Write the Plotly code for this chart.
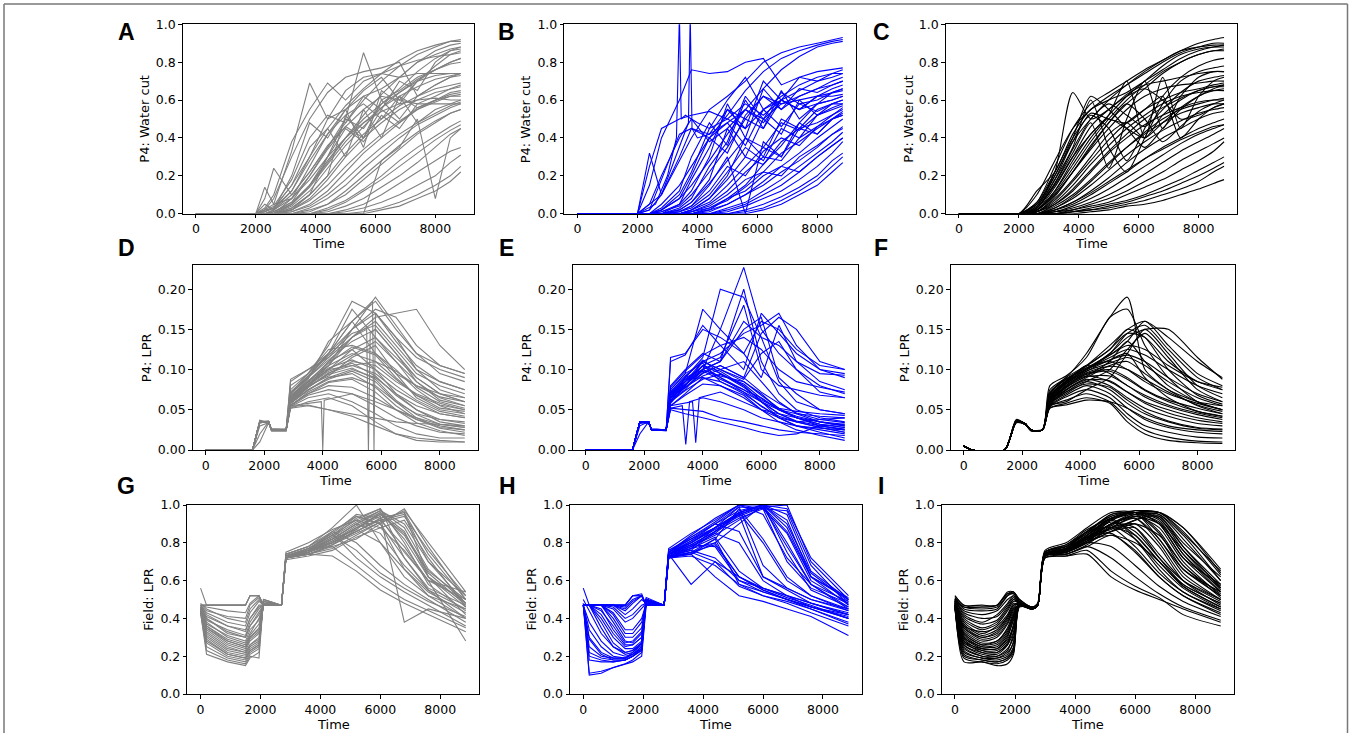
import plotly.graph_objects as go

FIG_W, FIG_H = 1352, 733
GRAY = '#808080'
BLUE = '#0000ff'
BLACK = '#000000'

# ---------------- tick labels ----------------
X_TICKS = [0, 2000, 4000, 6000, 8000]
X_TICK_TEXT = ['0', '2000', '4000', '6000', '8000']
Y_TICKS_UNIT = [0.0, 0.2, 0.4, 0.6, 0.8, 1.0]
Y_TICK_TEXT_UNIT = ['0.0', '0.2', '0.4', '0.6', '0.8', '1.0']
Y_TICKS_LPR = [0.0, 0.05, 0.10, 0.15, 0.20]
Y_TICK_TEXT_LPR = ['0.00', '0.05', '0.10', '0.15', '0.20']

# ---------------- panel A : P4 water cut (gray) ----------------
TIME_A = [0, 2000, 2300, 2600, 3200, 3800, 4400, 5000, 5600, 6200, 6800, 7400, 8000, 8500, 8850]
A_WC = [
    [0, 0, 0, 0.02, 0.10, 0.22, 0.35, 0.48, 0.60, 0.70, 0.78, 0.84, 0.88, 0.91, 0.92],
    [0, 0, 0.01, 0.03, 0.15, 0.30, 0.45, 0.57, 0.66, 0.74, 0.81, 0.86, 0.89, 0.91, 0.91],
    [0, 0, 0, 0.01, 0.06, 0.15, 0.27, 0.40, 0.52, 0.63, 0.72, 0.80, 0.86, 0.89, 0.90],
    [0, 0, 0.02, 0.05, 0.33, 0.69, 0.50, 0.55, 0.62, 0.66, 0.72, 0.80, 0.84, 0.87, 0.88],
    [0, 0, 0.03, 0.10, 0.38, 0.55, 0.69, 0.60, 0.70, 0.74, 0.78, 0.81, 0.83, 0.84, 0.85],
    [0, 0, 0.02, 0.08, 0.30, 0.50, 0.64, 0.72, 0.75, 0.77, 0.80, 0.62, 0.68, 0.72, 0.74],
    [0, 0, 0, 0, 0.05, 0.15, 0.30, 0.50, 0.85, 0.60, 0.65, 0.72, 0.76, 0.80, 0.82],
    [0, 0, 0, 0.02, 0.12, 0.30, 0.50, 0.65, 0.72, 0.74, 0.72, 0.74, 0.74, 0.74, 0.74],
    [0, 0, 0, 0, 0.05, 0.15, 0.28, 0.40, 0.50, 0.58, 0.64, 0.70, 0.73, 0.74, 0.74],
    [0, 0, 0, 0, 0.02, 0.08, 0.18, 0.30, 0.40, 0.48, 0.55, 0.60, 0.64, 0.66, 0.67],
    [0, 0, 0, 0, 0.01, 0.05, 0.12, 0.22, 0.32, 0.40, 0.48, 0.55, 0.60, 0.64, 0.65],
    [0, 0, 0.14, 0.05, 0.08, 0.18, 0.30, 0.40, 0.48, 0.54, 0.58, 0.60, 0.61, 0.60, 0.60],
    [0, 0, 0.08, 0.24, 0.10, 0.22, 0.36, 0.46, 0.55, 0.62, 0.60, 0.58, 0.58, 0.58, 0.58],
    [0, 0, 0, 0, 0, 0.03, 0.08, 0.15, 0.24, 0.32, 0.40, 0.47, 0.52, 0.56, 0.58],
    [0, 0, 0, 0, 0, 0.02, 0.05, 0.10, 0.18, 0.26, 0.34, 0.42, 0.48, 0.53, 0.55],
    [0, 0, 0, 0, 0, 0, 0.03, 0.07, 0.13, 0.20, 0.28, 0.35, 0.41, 0.46, 0.49],
    [0, 0, 0, 0, 0, 0, 0.01, 0.04, 0.08, 0.14, 0.20, 0.27, 0.35, 0.42, 0.45],
    [0, 0, 0, 0, 0, 0, 0, 0.02, 0.05, 0.10, 0.16, 0.22, 0.28, 0.33, 0.35],
    [0, 0, 0, 0, 0, 0, 0, 0.01, 0.03, 0.06, 0.10, 0.15, 0.20, 0.27, 0.31],
    [0, 0, 0, 0, 0, 0, 0, 0, 0.01, 0.03, 0.06, 0.10, 0.15, 0.20, 0.25],
    [0, 0, 0, 0, 0, 0, 0, 0, 0, 0.02, 0.04, 0.08, 0.12, 0.17, 0.22],
    [0, 0, 0.02, 0.03, 0.15, 0.35, 0.45, 0.30, 0.55, 0.40, 0.62, 0.48, 0.55, 0.58, 0.60],
    [0, 0, 0, 0, 0, 0, 0, 0, 0, 0.28, 0.35, 0.50, 0.08, 0.40, 0.45],
    [0, 0, 0.01, 0.04, 0.18, 0.40, 0.52, 0.48, 0.62, 0.55, 0.70, 0.65, 0.80, 0.86, 0.88],
    [0, 0, 0, 0, 0.08, 0.25, 0.42, 0.55, 0.65, 0.72, 0.60, 0.70, 0.78, 0.84, 0.86],
    [0, 0, 0, 0, 0.03, 0.10, 0.20, 0.52, 0.40, 0.60, 0.50, 0.62, 0.68, 0.72, 0.73],
    [0, 0, 0, 0.01, 0.06, 0.20, 0.35, 0.50, 0.45, 0.58, 0.66, 0.75, 0.82, 0.86, 0.87],
    [0, 0, 0, 0, 0.02, 0.10, 0.30, 0.45, 0.38, 0.52, 0.45, 0.58, 0.62, 0.66, 0.68],
    [0, 0, 0, 0.01, 0.05, 0.14, 0.26, 0.38, 0.48, 0.56, 0.62, 0.67, 0.71, 0.73, 0.74],
    [0, 0, 0, 0, 0.03, 0.10, 0.20, 0.32, 0.42, 0.50, 0.57, 0.62, 0.66, 0.68, 0.69],
    [0, 0, 0, 0, 0.02, 0.07, 0.15, 0.25, 0.34, 0.42, 0.49, 0.55, 0.59, 0.62, 0.63],
    [0, 0, 0, 0, 0.01, 0.04, 0.10, 0.18, 0.27, 0.35, 0.42, 0.48, 0.53, 0.57, 0.59],
    [0, 0, 0.01, 0.03, 0.12, 0.28, 0.42, 0.52, 0.58, 0.50, 0.62, 0.56, 0.60, 0.62, 0.62],
    [0, 0, 0, 0.02, 0.08, 0.20, 0.34, 0.46, 0.40, 0.55, 0.48, 0.56, 0.60, 0.63, 0.64],
    [0, 0, 0, 0, 0, 0.01, 0.05, 0.12, 0.20, 0.28, 0.36, 0.43, 0.49, 0.53, 0.55],
    [0, 0, 0, 0, 0, 0, 0.02, 0.06, 0.12, 0.18, 0.25, 0.32, 0.39, 0.44, 0.47],
    [0, 0, 0.05, 0.02, 0.20, 0.48, 0.40, 0.55, 0.35, 0.65, 0.58, 0.70, 0.76, 0.80, 0.82],
    [0, 0, 0, 0, 0.04, 0.12, 0.24, 0.36, 0.46, 0.56, 0.64, 0.71, 0.76, 0.79, 0.80],
]

# ---------------- panel B : P4 water cut (blue) ----------------
TIME_B = [0, 2000, 2400, 2800, 3400, 3800, 4400, 5000, 5600, 6200, 6800, 7400, 8000, 8500, 8850]
B_WC = [
    [0, 0, 0.25, 0.45, 0.50, 0.52, 0.54, 0.50, 0.45, 0.55, 0.60, 0.65, 0.70, 0.74, 0.76],
    [0, 0, 0.15, 0.40, 0.60, 0.76, 0.74, 0.75, 0.80, 0.82, 0.68, 0.72, 0.75, 0.76, 0.77],
    [0, 0, 0.32, 0.10, 0.30, 0.45, 0.42, 0.55, 0.50, 0.62, 0.58, 0.60, 0.62, 0.64, 0.65],
    [0, 0, 0.05, 0.20, 0.40, 0.50, 0.38, 0.45, 0.55, 0.48, 0.60, 0.55, 0.62, 0.66, 0.68],
    [0, 0, 0.02, 0.10, 0.28, 0.40, 0.55, 0.62, 0.70, 0.80, 0.85, 0.88, 0.90, 0.92, 0.93],
    [0, 0, 0, 0.05, 0.15, 0.25, 0.40, 0.52, 0.65, 0.75, 0.82, 0.86, 0.89, 0.91, 0.92],
    [0, 0, 0, 0.02, 0.08, 0.15, 0.28, 0.42, 0.55, 0.66, 0.76, 0.83, 0.88, 0.90, 0.91],
    [0, 0, 0, 0.02, 0.10, 0.22, 0.45, 0.60, 0.72, 0.55, 0.62, 0.68, 0.72, 0.74, 0.74],
    [0, 0, 0, 0, 0.05, 0.12, 0.30, 0.58, 0.40, 0.66, 0.55, 0.62, 0.66, 0.68, 0.70],
    [0, 0, 0, 0, 0.02, 0.06, 0.18, 0.45, 0.30, 0.50, 0.42, 0.60, 0.52, 0.58, 0.60],
    [0, 0, 0, 0, 0.01, 0.03, 0.10, 0.22, 0.35, 0.28, 0.45, 0.40, 0.52, 0.55, 0.57],
    [0, 0, 0, 0, 0, 0.02, 0.06, 0.15, 0.25, 0.35, 0.30, 0.45, 0.48, 0.52, 0.55],
    [0, 0, 0, 0, 0, 0.01, 0.04, 0.10, 0.18, 0.22, 0.32, 0.38, 0.45, 0.50, 0.52],
    [0, 0, 0, 0, 0, 0, 0.02, 0.08, 0.12, 0.20, 0.25, 0.32, 0.40, 0.46, 0.50],
    [0, 0, 0, 0, 0, 0, 0.01, 0.05, 0.10, 0.15, 0.22, 0.28, 0.35, 0.42, 0.45],
    [0, 0, 0, 0, 0, 0, 0, 0.03, 0.06, 0.12, 0.18, 0.25, 0.32, 0.38, 0.43],
    [0, 0, 0, 0, 0, 0, 0, 0.02, 0.05, 0.10, 0.15, 0.22, 0.30, 0.36, 0.40],
    [0, 0, 0, 0, 0, 0, 0, 0.01, 0.04, 0.08, 0.12, 0.18, 0.25, 0.32, 0.38],
    [0, 0, 0, 0, 0, 0, 0, 0, 0.02, 0.05, 0.09, 0.14, 0.20, 0.28, 0.32],
    [0, 0, 0, 0, 0, 0, 0, 0, 0.01, 0.03, 0.07, 0.12, 0.18, 0.25, 0.30],
    [0, 0, 0, 0, 0, 0, 0, 0, 0, 0.02, 0.05, 0.10, 0.15, 0.22, 0.27],
    [0, 0, 0, 0.03, 0.12, 0.30, 0.48, 0.36, 0.60, 0.45, 0.65, 0.50, 0.58, 0.60, 0.62],
    [0, 0, 0, 0.01, 0.05, 0.18, 0.35, 0.55, 0.45, 0.70, 0.60, 0.72, 0.70, 0.72, 0.74],
    [0, 0, 0, 0, 0.03, 0.08, 0.25, 0.38, 0.62, 0.50, 0.64, 0.58, 0.60, 0.64, 0.66],
    [0, 0, 0, 0, 0, 0.02, 0.08, 0.20, 0.40, 0.30, 0.50, 0.45, 0.55, 0.58, 0.58],
    [0, 0, 0, 0, 0.01, 0.04, 0.15, 0.30, 0.00, 0.38, 0.30, 0.48, 0.42, 0.50, 0.53],
    [0, 0, 0, 0, 0.02, 0.06, 0.16, 0.28, 0.40, 0.35, 0.48, 0.44, 0.52, 0.56, 0.58],
    [0, 0, 0, 0, 0.01, 0.04, 0.12, 0.25, 0.20, 0.33, 0.40, 0.36, 0.46, 0.50, 0.52],
    [0, 0, 0, 0, 0, 0.02, 0.08, 0.18, 0.30, 0.26, 0.38, 0.45, 0.42, 0.50, 0.54],
    [0, 0, 0, 0, 0, 0.01, 0.05, 0.12, 0.22, 0.30, 0.28, 0.40, 0.46, 0.52, 0.56],
    [0, 0, 0, 0.01, 0.04, 0.10, 0.22, 0.35, 0.50, 0.45, 0.60, 0.55, 0.62, 0.62, 0.63],
    [0, 0, 0, 0, 0, 0, 0.03, 0.07, 0.14, 0.22, 0.20, 0.30, 0.36, 0.42, 0.46],
    [0, 0, 0, 0, 0, 0, 0.02, 0.05, 0.10, 0.17, 0.25, 0.22, 0.30, 0.36, 0.40],
    [0, 0, 0, 0.02, 0.08, 0.20, 0.40, 0.32, 0.52, 0.62, 0.55, 0.66, 0.64, 0.68, 0.70],
    [0, 0, 0.02, 0.18, 0.42, 0.45, 0.40, 0.48, 0.36, 0.55, 0.46, 0.58, 0.54, 0.58, 0.60],
    [0, 0, 0, 0, 0, 0.01, 0.03, 0.08, 0.15, 0.26, 0.36, 0.48, 0.58, 0.64, 0.66],
]
TIME_B_SPIKE1 = [0, 2000, 2600, 3000, 3300, 3400, 3460, 3600, 4000, 4400, 5000, 5600, 6200, 6800, 7400, 8000, 8500, 8850]
B_SPIKE1 = [0, 0, 0.05, 0.20, 0.40, 1.05, 0.50, 0.52, 0.48, 0.45, 0.50, 0.58, 0.52, 0.60, 0.55, 0.58, 0.60, 0.62]
TIME_B_SPIKE2 = [0, 2000, 2800, 3400, 3700, 3760, 3820, 4000, 4400, 5000, 5600, 6200, 6800, 7400, 8000, 8500, 8850]
B_SPIKE2 = [0, 0, 0.10, 0.35, 0.48, 1.05, 0.45, 0.40, 0.42, 0.48, 0.55, 0.50, 0.58, 0.62, 0.66, 0.70, 0.72]

# ---------------- panel C : P4 water cut (black) ----------------
TIME_C = [0, 2000, 2600, 3200, 3800, 4400, 5000, 5600, 6200, 6800, 7400, 8000, 8500, 8850]
C_WC = [
    [0, 0, 0.06, 0.25, 0.45, 0.58, 0.64, 0.70, 0.76, 0.81, 0.86, 0.90, 0.92, 0.93],
    [0, 0, 0.10, 0.28, 0.45, 0.55, 0.62, 0.68, 0.74, 0.80, 0.85, 0.88, 0.90, 0.90],
    [0, 0, 0.05, 0.20, 0.38, 0.50, 0.60, 0.68, 0.75, 0.81, 0.86, 0.88, 0.89, 0.89],
    [0, 0, 0.03, 0.15, 0.30, 0.42, 0.52, 0.62, 0.70, 0.78, 0.84, 0.87, 0.88, 0.88],
    [0, 0, 0.02, 0.10, 0.22, 0.35, 0.48, 0.58, 0.66, 0.74, 0.80, 0.84, 0.86, 0.86],
    [0, 0, 0.06, 0.22, 0.40, 0.52, 0.45, 0.28, 0.45, 0.62, 0.72, 0.78, 0.81, 0.82],
    [0, 0, 0.04, 0.18, 0.35, 0.60, 0.35, 0.22, 0.40, 0.58, 0.70, 0.75, 0.77, 0.78],
    [0, 0, 0.03, 0.16, 0.32, 0.48, 0.24, 0.50, 0.70, 0.45, 0.62, 0.72, 0.75, 0.75],
    [0, 0, 0.02, 0.12, 0.26, 0.40, 0.52, 0.70, 0.40, 0.72, 0.45, 0.62, 0.70, 0.72],
    [0, 0, 0.02, 0.10, 0.22, 0.34, 0.45, 0.55, 0.62, 0.66, 0.68, 0.69, 0.70, 0.70],
    [0, 0, 0.01, 0.08, 0.18, 0.30, 0.42, 0.48, 0.40, 0.52, 0.60, 0.65, 0.67, 0.67],
    [0, 0, 0.01, 0.06, 0.15, 0.26, 0.36, 0.45, 0.52, 0.58, 0.62, 0.64, 0.65, 0.65],
    [0, 0, 0.01, 0.05, 0.12, 0.22, 0.32, 0.40, 0.47, 0.52, 0.56, 0.59, 0.60, 0.60],
    [0, 0, 0, 0.04, 0.10, 0.18, 0.27, 0.35, 0.42, 0.48, 0.53, 0.56, 0.58, 0.58],
    [0, 0, 0, 0.03, 0.08, 0.15, 0.23, 0.31, 0.38, 0.44, 0.49, 0.53, 0.55, 0.56],
    [0, 0, 0, 0.02, 0.06, 0.12, 0.19, 0.27, 0.34, 0.40, 0.45, 0.50, 0.53, 0.54],
    [0, 0, 0, 0.02, 0.05, 0.10, 0.16, 0.22, 0.29, 0.35, 0.40, 0.45, 0.48, 0.50],
    [0, 0, 0, 0.01, 0.04, 0.08, 0.13, 0.19, 0.25, 0.31, 0.37, 0.42, 0.45, 0.47],
    [0, 0, 0, 0.01, 0.03, 0.06, 0.10, 0.15, 0.21, 0.27, 0.33, 0.38, 0.42, 0.45],
    [0, 0, 0, 0.01, 0.02, 0.05, 0.08, 0.12, 0.17, 0.22, 0.28, 0.33, 0.37, 0.40],
    [0, 0, 0, 0, 0.02, 0.04, 0.06, 0.10, 0.14, 0.18, 0.23, 0.28, 0.33, 0.38],
    [0, 0, 0, 0, 0.01, 0.03, 0.05, 0.07, 0.10, 0.14, 0.18, 0.23, 0.27, 0.30],
    [0, 0, 0, 0, 0.01, 0.02, 0.04, 0.06, 0.09, 0.12, 0.16, 0.20, 0.24, 0.27],
    [0, 0, 0, 0, 0.01, 0.02, 0.03, 0.05, 0.07, 0.10, 0.13, 0.17, 0.22, 0.25],
    [0, 0, 0, 0, 0, 0.01, 0.02, 0.04, 0.05, 0.07, 0.10, 0.13, 0.16, 0.18],
    [0, 0, 0.05, 0.22, 0.64, 0.50, 0.55, 0.63, 0.68, 0.70, 0.72, 0.74, 0.75, 0.75],
    [0, 0, 0.04, 0.20, 0.40, 0.62, 0.55, 0.45, 0.35, 0.45, 0.55, 0.62, 0.66, 0.68],
    [0, 0, 0.03, 0.18, 0.38, 0.53, 0.50, 0.48, 0.55, 0.62, 0.40, 0.50, 0.56, 0.58],
    [0, 0, 0.12, 0.22, 0.42, 0.55, 0.60, 0.64, 0.70, 0.76, 0.82, 0.86, 0.88, 0.89],
    [0, 0, 0.02, 0.12, 0.28, 0.42, 0.50, 0.45, 0.40, 0.48, 0.56, 0.62, 0.65, 0.66],
    [0, 0, 0.01, 0.09, 0.22, 0.36, 0.48, 0.58, 0.50, 0.38, 0.46, 0.54, 0.58, 0.60],
    [0, 0, 0.02, 0.14, 0.30, 0.46, 0.55, 0.62, 0.66, 0.60, 0.50, 0.52, 0.56, 0.58],
    [0, 0, 0.01, 0.07, 0.17, 0.28, 0.39, 0.48, 0.55, 0.60, 0.64, 0.66, 0.68, 0.69],
    [0, 0, 0, 0.05, 0.13, 0.23, 0.33, 0.42, 0.50, 0.56, 0.61, 0.65, 0.67, 0.68],
    [0, 0, 0, 0.03, 0.09, 0.17, 0.26, 0.35, 0.43, 0.50, 0.55, 0.58, 0.60, 0.61],
    [0, 0, 0.03, 0.16, 0.34, 0.50, 0.58, 0.52, 0.46, 0.55, 0.64, 0.70, 0.72, 0.73],
    [0, 0, 0.02, 0.11, 0.24, 0.38, 0.50, 0.60, 0.68, 0.75, 0.80, 0.84, 0.86, 0.87],
    [0, 0, 0, 0.02, 0.06, 0.11, 0.17, 0.23, 0.29, 0.34, 0.39, 0.43, 0.46, 0.47],
]

# ---------------- panel D : P4 LPR (gray) ----------------
TIME_D = [0, 1600, 1850, 2150, 2250, 2750, 2900, 3500, 4200, 5000, 5800, 6500, 7200, 8000, 8850]
D_LPR = [
    [0, 0, 0.036, 0.034, 0.026, 0.026, 0.085, 0.100, 0.115, 0.140, 0.165, 0.170, 0.175, 0.130, 0.100],
    [0, 0, 0.035, 0.035, 0.025, 0.025, 0.080, 0.095, 0.120, 0.160, 0.185, 0.150, 0.120, 0.105, 0.095],
    [0, 0, 0.037, 0.034, 0.024, 0.024, 0.075, 0.095, 0.130, 0.185, 0.170, 0.140, 0.115, 0.100, 0.090],
    [0, 0, 0.034, 0.035, 0.026, 0.025, 0.070, 0.090, 0.120, 0.150, 0.190, 0.155, 0.120, 0.095, 0.085],
    [0, 0, 0.035, 0.036, 0.025, 0.026, 0.065, 0.085, 0.110, 0.140, 0.160, 0.130, 0.100, 0.085, 0.075],
    [0, 0, 0.030, 0.034, 0.024, 0.024, 0.065, 0.088, 0.135, 0.160, 0.120, 0.095, 0.080, 0.070, 0.065],
    [0, 0, 0.036, 0.035, 0.025, 0.025, 0.060, 0.080, 0.100, 0.125, 0.140, 0.115, 0.090, 0.070, 0.060],
    [0, 0, 0.035, 0.034, 0.024, 0.024, 0.060, 0.078, 0.095, 0.110, 0.105, 0.085, 0.070, 0.058, 0.050],
    [0, 0, 0.020, 0.035, 0.025, 0.025, 0.058, 0.075, 0.090, 0.100, 0.090, 0.070, 0.055, 0.045, 0.040],
    [0, 0, 0.034, 0.035, 0.026, 0.025, 0.055, 0.072, 0.085, 0.090, 0.080, 0.060, 0.045, 0.038, 0.035],
    [0, 0, 0.035, 0.036, 0.025, 0.025, 0.058, 0.078, 0.110, 0.125, 0.100, 0.070, 0.050, 0.035, 0.030],
    [0, 0, 0.010, 0.034, 0.024, 0.024, 0.056, 0.070, 0.080, 0.078, 0.065, 0.050, 0.038, 0.030, 0.025],
    [0, 0, 0.035, 0.035, 0.025, 0.025, 0.055, 0.068, 0.075, 0.070, 0.055, 0.040, 0.030, 0.022, 0.020],
    [0, 0, 0.035, 0.035, 0.025, 0.025, 0.054, 0.065, 0.070, 0.060, 0.045, 0.030, 0.020, 0.015, 0.015],
    [0, 0, 0.036, 0.034, 0.024, 0.024, 0.052, 0.060, 0.065, 0.055, 0.035, 0.020, 0.012, 0.010, 0.010],
    [0, 0, 0.034, 0.035, 0.026, 0.025, 0.052, 0.055, 0.050, 0.045, 0.040, 0.035, 0.033, 0.032, 0.030],
    [0, 0, 0.035, 0.035, 0.025, 0.025, 0.054, 0.056, 0.050, 0.042, 0.030, 0.020, 0.015, 0.012, 0.010],
    [0, 0, 0.035, 0.035, 0.025, 0.025, 0.066, 0.090, 0.115, 0.150, 0.175, 0.165, 0.130, 0.105, 0.095],
    [0, 0, 0.035, 0.035, 0.025, 0.025, 0.088, 0.100, 0.120, 0.175, 0.140, 0.110, 0.085, 0.065, 0.055],
    [0, 0, 0.035, 0.035, 0.025, 0.025, 0.070, 0.095, 0.125, 0.130, 0.120, 0.100, 0.075, 0.055, 0.045],
    [0, 0, 0.035, 0.035, 0.025, 0.025, 0.062, 0.082, 0.100, 0.105, 0.095, 0.075, 0.060, 0.045, 0.040],
    [0, 0, 0.035, 0.035, 0.025, 0.025, 0.060, 0.080, 0.092, 0.115, 0.130, 0.095, 0.065, 0.050, 0.045],
    [0, 0, 0.035, 0.035, 0.025, 0.025, 0.058, 0.075, 0.088, 0.098, 0.085, 0.060, 0.040, 0.028, 0.025],
    [0, 0, 0.035, 0.035, 0.025, 0.025, 0.072, 0.092, 0.118, 0.145, 0.155, 0.125, 0.095, 0.080, 0.070],
    [0, 0, 0.035, 0.035, 0.025, 0.025, 0.068, 0.086, 0.105, 0.120, 0.110, 0.088, 0.068, 0.052, 0.048],
    [0, 0, 0.035, 0.035, 0.025, 0.025, 0.064, 0.084, 0.102, 0.112, 0.100, 0.080, 0.062, 0.048, 0.042],
    [0, 0, 0.034, 0.035, 0.025, 0.025, 0.062, 0.080, 0.098, 0.108, 0.092, 0.068, 0.050, 0.038, 0.033],
    [0, 0, 0.036, 0.034, 0.025, 0.025, 0.060, 0.078, 0.094, 0.102, 0.088, 0.062, 0.044, 0.032, 0.028],
    [0, 0, 0.035, 0.035, 0.025, 0.025, 0.058, 0.074, 0.090, 0.095, 0.078, 0.055, 0.038, 0.027, 0.022],
    [0, 0, 0.035, 0.035, 0.025, 0.025, 0.070, 0.090, 0.112, 0.135, 0.150, 0.120, 0.085, 0.062, 0.055],
    [0, 0, 0.035, 0.035, 0.025, 0.025, 0.066, 0.086, 0.108, 0.128, 0.118, 0.090, 0.068, 0.056, 0.050],
    [0, 0, 0.035, 0.035, 0.025, 0.025, 0.064, 0.082, 0.100, 0.118, 0.135, 0.110, 0.078, 0.060, 0.052],
    [0, 0, 0.035, 0.035, 0.025, 0.025, 0.056, 0.070, 0.084, 0.088, 0.072, 0.050, 0.034, 0.024, 0.018],
    [0, 0, 0.035, 0.035, 0.025, 0.025, 0.062, 0.080, 0.105, 0.150, 0.170, 0.140, 0.100, 0.075, 0.065],
    [0, 0, 0.035, 0.035, 0.025, 0.025, 0.060, 0.078, 0.096, 0.105, 0.110, 0.098, 0.080, 0.066, 0.060],
]
TIME_D_SPIKE1 = [0, 1600, 1850, 2150, 2250, 2750, 2900, 3500, 3950, 4000, 4050, 5000, 5800, 6500, 7200, 8000, 8850]
D_SPIKE1 = [0, 0, 0.035, 0.035, 0.025, 0.025, 0.055, 0.058, 0.060, 0.000, 0.062, 0.070, 0.060, 0.050, 0.040, 0.032, 0.028]
TIME_D_SPIKE2 = [0, 1600, 1850, 2150, 2250, 2750, 2900, 3500, 4200, 5000, 5500, 5560, 5620, 5800, 6500, 7200, 8000, 8850]
D_SPIKE2 = [0, 0, 0.035, 0.034, 0.025, 0.025, 0.062, 0.085, 0.105, 0.140, 0.150, 0.000, 0.145, 0.150, 0.120, 0.090, 0.070, 0.060]
TIME_D_SPIKE3 = [0, 1600, 1850, 2150, 2250, 2750, 2900, 3500, 4200, 5000, 5700, 5750, 5800, 6500, 7200, 8000, 8850]
D_SPIKE3 = [0, 0, 0.035, 0.035, 0.025, 0.025, 0.070, 0.092, 0.120, 0.160, 0.185, 0.000, 0.170, 0.135, 0.105, 0.085, 0.075]

# ---------------- panel E : P4 LPR (blue) ----------------
TIME_E = [0, 1600, 1850, 2150, 2250, 2750, 2900, 3400, 4000, 4600, 5400, 6000, 6600, 7200, 8000, 8850]
E_LPR = [
    [0, 0, 0.035, 0.033, 0.026, 0.025, 0.070, 0.085, 0.100, 0.150, 0.227, 0.150, 0.120, 0.100, 0.080, 0.070],
    [0, 0, 0.035, 0.034, 0.025, 0.025, 0.065, 0.090, 0.115, 0.200, 0.190, 0.140, 0.130, 0.110, 0.095, 0.093],
    [0, 0, 0.034, 0.034, 0.025, 0.024, 0.115, 0.120, 0.150, 0.140, 0.120, 0.160, 0.150, 0.125, 0.105, 0.100],
    [0, 0, 0.035, 0.035, 0.026, 0.025, 0.110, 0.118, 0.155, 0.130, 0.100, 0.170, 0.145, 0.120, 0.100, 0.095],
    [0, 0, 0.035, 0.035, 0.025, 0.025, 0.075, 0.095, 0.175, 0.150, 0.120, 0.090, 0.155, 0.110, 0.085, 0.075],
    [0, 0, 0.033, 0.035, 0.025, 0.025, 0.070, 0.085, 0.110, 0.120, 0.145, 0.155, 0.170, 0.130, 0.100, 0.090],
    [0, 0, 0.035, 0.034, 0.025, 0.025, 0.065, 0.080, 0.105, 0.115, 0.180, 0.100, 0.080, 0.075, 0.068, 0.065],
    [0, 0, 0.030, 0.035, 0.025, 0.025, 0.062, 0.075, 0.100, 0.110, 0.150, 0.165, 0.090, 0.070, 0.050, 0.045],
    [0, 0, 0.035, 0.035, 0.026, 0.025, 0.060, 0.085, 0.105, 0.095, 0.080, 0.060, 0.040, 0.030, 0.025, 0.020],
    [0, 0, 0.035, 0.035, 0.025, 0.025, 0.058, 0.080, 0.110, 0.100, 0.085, 0.070, 0.050, 0.040, 0.030, 0.025],
    [0, 0, 0.034, 0.035, 0.025, 0.025, 0.060, 0.090, 0.100, 0.090, 0.075, 0.060, 0.045, 0.035, 0.028, 0.022],
    [0, 0, 0.035, 0.034, 0.025, 0.024, 0.055, 0.070, 0.090, 0.085, 0.070, 0.055, 0.040, 0.030, 0.022, 0.015],
    [0, 0, 0.020, 0.035, 0.025, 0.025, 0.055, 0.068, 0.082, 0.080, 0.065, 0.050, 0.035, 0.025, 0.018, 0.012],
    [0, 0, 0.035, 0.035, 0.025, 0.025, 0.052, 0.050, 0.048, 0.040, 0.035, 0.030, 0.025, 0.022, 0.020, 0.018],
    [0, 0, 0.035, 0.035, 0.025, 0.025, 0.050, 0.045, 0.040, 0.035, 0.028, 0.022, 0.018, 0.020, 0.030, 0.032],
    [0, 0, 0.035, 0.035, 0.025, 0.025, 0.065, 0.078, 0.095, 0.105, 0.090, 0.145, 0.165, 0.150, 0.110, 0.100],
    [0, 0, 0.035, 0.035, 0.025, 0.025, 0.068, 0.082, 0.098, 0.088, 0.075, 0.065, 0.050, 0.042, 0.035, 0.030],
    [0, 0, 0.035, 0.035, 0.025, 0.025, 0.070, 0.088, 0.090, 0.080, 0.068, 0.050, 0.040, 0.035, 0.038, 0.040],
    [0, 0, 0.035, 0.035, 0.025, 0.025, 0.075, 0.095, 0.108, 0.085, 0.072, 0.060, 0.050, 0.045, 0.042, 0.040],
    [0, 0, 0.035, 0.035, 0.025, 0.025, 0.080, 0.100, 0.120, 0.110, 0.200, 0.110, 0.070, 0.050, 0.040, 0.035],
    [0, 0, 0.035, 0.035, 0.025, 0.025, 0.072, 0.090, 0.112, 0.095, 0.078, 0.062, 0.052, 0.048, 0.045, 0.043],
    [0, 0, 0.035, 0.035, 0.025, 0.025, 0.066, 0.078, 0.092, 0.100, 0.110, 0.085, 0.060, 0.045, 0.035, 0.030],
    [0, 0, 0.035, 0.035, 0.025, 0.025, 0.068, 0.085, 0.105, 0.098, 0.080, 0.060, 0.045, 0.036, 0.030, 0.026],
    [0, 0, 0.035, 0.035, 0.025, 0.025, 0.064, 0.080, 0.100, 0.092, 0.085, 0.068, 0.052, 0.040, 0.032, 0.028],
    [0, 0, 0.035, 0.035, 0.025, 0.025, 0.062, 0.078, 0.096, 0.105, 0.090, 0.072, 0.058, 0.046, 0.038, 0.034],
    [0, 0, 0.035, 0.035, 0.025, 0.025, 0.060, 0.074, 0.088, 0.094, 0.082, 0.064, 0.050, 0.040, 0.032, 0.028],
    [0, 0, 0.035, 0.035, 0.025, 0.025, 0.072, 0.092, 0.110, 0.100, 0.088, 0.120, 0.135, 0.100, 0.072, 0.065],
    [0, 0, 0.035, 0.035, 0.025, 0.025, 0.078, 0.098, 0.118, 0.130, 0.140, 0.125, 0.100, 0.085, 0.078, 0.072],
    [0, 0, 0.035, 0.035, 0.025, 0.025, 0.070, 0.088, 0.104, 0.090, 0.072, 0.054, 0.042, 0.035, 0.028, 0.022],
    [0, 0, 0.035, 0.035, 0.025, 0.025, 0.066, 0.082, 0.100, 0.110, 0.160, 0.140, 0.085, 0.060, 0.050, 0.045],
]
TIME_E_SPIKE1 = [0, 1600, 1850, 2150, 2250, 2750, 2900, 3300, 3420, 3550, 4000, 4600, 5400, 6000, 6600, 7200, 8000, 8850]
E_SPIKE1 = [0, 0, 0.035, 0.035, 0.025, 0.025, 0.052, 0.055, 0.007, 0.060, 0.065, 0.060, 0.050, 0.040, 0.035, 0.030, 0.027, 0.025]
TIME_E_SPIKE2 = [0, 1600, 1850, 2150, 2250, 2750, 2900, 3400, 3650, 3760, 3880, 4600, 5400, 6000, 6600, 7200, 8000, 8850]
E_SPIKE2 = [0, 0, 0.035, 0.035, 0.025, 0.025, 0.055, 0.058, 0.060, 0.009, 0.065, 0.072, 0.060, 0.050, 0.045, 0.040, 0.035, 0.032]

# ---------------- panel F : P4 LPR (black) ----------------
TIME_F = [0, 300, 1400, 1800, 2100, 2300, 2700, 2950, 3500, 4200, 5000, 5600, 6200, 7000, 8000, 8850]
F_LPR = [
    [0.005, 0, 0, 0.036, 0.033, 0.025, 0.025, 0.075, 0.090, 0.120, 0.165, 0.190, 0.100, 0.075, 0.055, 0.045],
    [0.005, 0, 0, 0.038, 0.032, 0.025, 0.025, 0.080, 0.092, 0.115, 0.165, 0.175, 0.130, 0.090, 0.060, 0.050],
    [0.005, 0, 0, 0.036, 0.033, 0.025, 0.026, 0.070, 0.088, 0.105, 0.130, 0.150, 0.160, 0.140, 0.110, 0.090],
    [0.005, 0, 0, 0.035, 0.032, 0.024, 0.025, 0.068, 0.085, 0.100, 0.120, 0.140, 0.150, 0.150, 0.115, 0.088],
    [0.005, 0, 0, 0.037, 0.033, 0.025, 0.025, 0.072, 0.088, 0.100, 0.118, 0.135, 0.160, 0.130, 0.095, 0.080],
    [0.005, 0, 0, 0.036, 0.032, 0.025, 0.025, 0.070, 0.090, 0.105, 0.125, 0.145, 0.140, 0.110, 0.085, 0.075],
    [0.005, 0, 0, 0.035, 0.033, 0.025, 0.025, 0.065, 0.085, 0.100, 0.115, 0.125, 0.118, 0.100, 0.080, 0.070],
    [0.005, 0, 0, 0.034, 0.032, 0.024, 0.025, 0.062, 0.082, 0.098, 0.108, 0.115, 0.105, 0.085, 0.065, 0.055],
    [0.005, 0, 0, 0.036, 0.033, 0.025, 0.025, 0.066, 0.086, 0.102, 0.110, 0.100, 0.085, 0.070, 0.058, 0.050],
    [0.005, 0, 0, 0.035, 0.032, 0.025, 0.025, 0.060, 0.080, 0.095, 0.100, 0.090, 0.075, 0.062, 0.052, 0.045],
    [0.005, 0, 0, 0.036, 0.033, 0.025, 0.025, 0.064, 0.084, 0.105, 0.095, 0.080, 0.068, 0.056, 0.046, 0.040],
    [0.005, 0, 0, 0.035, 0.032, 0.025, 0.025, 0.058, 0.078, 0.092, 0.085, 0.072, 0.060, 0.050, 0.040, 0.035],
    [0.005, 0, 0, 0.034, 0.032, 0.024, 0.025, 0.056, 0.075, 0.088, 0.080, 0.065, 0.052, 0.042, 0.033, 0.030],
    [0.005, 0, 0, 0.036, 0.033, 0.025, 0.025, 0.055, 0.072, 0.085, 0.075, 0.058, 0.045, 0.035, 0.027, 0.025],
    [0.005, 0, 0, 0.035, 0.032, 0.025, 0.025, 0.055, 0.068, 0.080, 0.070, 0.052, 0.038, 0.028, 0.022, 0.020],
    [0.005, 0, 0, 0.035, 0.033, 0.025, 0.025, 0.054, 0.066, 0.075, 0.065, 0.045, 0.030, 0.022, 0.016, 0.015],
    [0.005, 0, 0, 0.036, 0.032, 0.025, 0.025, 0.054, 0.062, 0.070, 0.060, 0.040, 0.025, 0.016, 0.011, 0.010],
    [0.005, 0, 0, 0.035, 0.033, 0.025, 0.025, 0.052, 0.058, 0.065, 0.058, 0.035, 0.020, 0.012, 0.009, 0.008],
    [0.005, 0, 0, 0.035, 0.032, 0.025, 0.025, 0.052, 0.056, 0.062, 0.060, 0.052, 0.040, 0.030, 0.025, 0.023],
    [0.005, 0, 0, 0.036, 0.033, 0.025, 0.025, 0.055, 0.060, 0.075, 0.090, 0.120, 0.150, 0.120, 0.080, 0.065],
    [0.005, 0, 0, 0.035, 0.032, 0.025, 0.025, 0.058, 0.070, 0.085, 0.100, 0.125, 0.145, 0.115, 0.075, 0.060],
    [0.005, 0, 0, 0.035, 0.033, 0.025, 0.025, 0.060, 0.075, 0.090, 0.105, 0.110, 0.095, 0.075, 0.060, 0.055],
    [0.005, 0, 0, 0.035, 0.032, 0.025, 0.025, 0.062, 0.078, 0.092, 0.110, 0.135, 0.110, 0.080, 0.060, 0.050],
    [0.005, 0, 0, 0.035, 0.033, 0.025, 0.025, 0.064, 0.082, 0.098, 0.112, 0.120, 0.090, 0.065, 0.048, 0.042],
    [0.005, 0, 0, 0.036, 0.033, 0.025, 0.025, 0.063, 0.083, 0.100, 0.112, 0.118, 0.110, 0.090, 0.070, 0.060],
    [0.005, 0, 0, 0.035, 0.032, 0.025, 0.025, 0.061, 0.080, 0.096, 0.104, 0.100, 0.088, 0.072, 0.056, 0.048],
    [0.005, 0, 0, 0.036, 0.033, 0.025, 0.025, 0.060, 0.079, 0.094, 0.098, 0.088, 0.074, 0.060, 0.048, 0.042],
    [0.005, 0, 0, 0.035, 0.032, 0.025, 0.025, 0.059, 0.077, 0.091, 0.092, 0.080, 0.066, 0.054, 0.044, 0.038],
    [0.005, 0, 0, 0.035, 0.033, 0.025, 0.025, 0.057, 0.074, 0.087, 0.086, 0.072, 0.058, 0.046, 0.037, 0.033],
    [0.005, 0, 0, 0.036, 0.032, 0.025, 0.025, 0.066, 0.084, 0.100, 0.120, 0.145, 0.155, 0.125, 0.090, 0.075],
    [0.005, 0, 0, 0.035, 0.033, 0.025, 0.025, 0.068, 0.086, 0.104, 0.125, 0.150, 0.140, 0.100, 0.068, 0.057],
    [0.005, 0, 0, 0.035, 0.032, 0.025, 0.025, 0.058, 0.072, 0.082, 0.078, 0.062, 0.048, 0.036, 0.028, 0.026],
    [0.005, 0, 0, 0.036, 0.033, 0.025, 0.025, 0.070, 0.088, 0.102, 0.118, 0.130, 0.125, 0.105, 0.085, 0.078],
]

# ---------------- panel G : Field LPR (gray) ----------------
TIME_G = [0, 200, 900, 1500, 1650, 1950, 2100, 2700, 2850, 3600, 4400, 5200, 6000, 6800, 7600, 8850]
G_LPR = [
    [0.47, 0.47, 0.47, 0.47, 0.52, 0.52, 0.47, 0.47, 0.72, 0.75, 0.80, 0.88, 0.95, 0.85, 0.65, 0.50],
    [0.56, 0.47, 0.47, 0.47, 0.52, 0.52, 0.47, 0.47, 0.72, 0.76, 0.82, 0.90, 0.97, 0.90, 0.70, 0.52],
    [0.48, 0.45, 0.40, 0.38, 0.45, 0.50, 0.47, 0.47, 0.73, 0.77, 0.85, 0.95, 0.93, 0.75, 0.60, 0.50],
    [0.47, 0.42, 0.36, 0.33, 0.40, 0.47, 0.47, 0.47, 0.74, 0.78, 0.88, 1.00, 0.80, 0.62, 0.52, 0.45],
    [0.47, 0.40, 0.32, 0.30, 0.36, 0.42, 0.47, 0.47, 0.72, 0.76, 0.84, 0.92, 0.98, 0.80, 0.58, 0.44],
    [0.46, 0.38, 0.30, 0.27, 0.32, 0.40, 0.47, 0.47, 0.73, 0.75, 0.80, 0.86, 0.92, 0.95, 0.70, 0.48],
    [0.46, 0.36, 0.28, 0.25, 0.30, 0.35, 0.47, 0.47, 0.72, 0.74, 0.78, 0.82, 0.90, 0.98, 0.78, 0.50],
    [0.45, 0.34, 0.26, 0.23, 0.28, 0.32, 0.47, 0.47, 0.71, 0.73, 0.76, 0.83, 0.88, 0.92, 0.72, 0.46],
    [0.45, 0.32, 0.24, 0.22, 0.26, 0.30, 0.48, 0.47, 0.72, 0.74, 0.79, 0.87, 0.96, 0.82, 0.62, 0.42],
    [0.44, 0.30, 0.22, 0.20, 0.24, 0.27, 0.48, 0.47, 0.73, 0.75, 0.82, 0.90, 0.85, 0.68, 0.55, 0.40],
    [0.44, 0.28, 0.21, 0.19, 0.23, 0.26, 0.49, 0.47, 0.72, 0.76, 0.86, 0.80, 0.68, 0.58, 0.50, 0.38],
    [0.44, 0.25, 0.19, 0.17, 0.21, 0.24, 0.50, 0.47, 0.74, 0.78, 0.85, 0.72, 0.62, 0.54, 0.47, 0.36],
    [0.43, 0.21, 0.17, 0.15, 0.19, 0.22, 0.50, 0.47, 0.73, 0.77, 0.78, 0.68, 0.58, 0.50, 0.44, 0.35],
    [0.43, 0.23, 0.18, 0.16, 0.20, 0.19, 0.50, 0.47, 0.72, 0.74, 0.73, 0.65, 0.55, 0.48, 0.42, 0.33],
    [0.47, 0.47, 0.47, 0.47, 0.52, 0.52, 0.47, 0.47, 0.75, 0.80, 0.87, 0.92, 0.88, 0.76, 0.60, 0.54],
    [0.47, 0.46, 0.44, 0.43, 0.48, 0.52, 0.47, 0.47, 0.73, 0.76, 0.80, 0.86, 0.93, 0.96, 0.62, 0.48],
    [0.47, 0.44, 0.41, 0.40, 0.47, 0.51, 0.47, 0.47, 0.72, 0.75, 0.81, 0.88, 0.94, 0.38, 0.45, 0.40],
    [0.46, 0.39, 0.34, 0.31, 0.38, 0.45, 0.47, 0.47, 0.72, 0.74, 0.77, 0.84, 0.91, 0.97, 0.80, 0.54],
    [0.45, 0.37, 0.31, 0.28, 0.34, 0.39, 0.47, 0.47, 0.73, 0.76, 0.83, 0.93, 0.98, 0.72, 0.55, 0.45],
    [0.44, 0.33, 0.25, 0.22, 0.26, 0.29, 0.48, 0.47, 0.72, 0.75, 0.80, 0.88, 0.92, 0.78, 0.60, 0.28],
    [0.45, 0.35, 0.27, 0.24, 0.29, 0.33, 0.47, 0.47, 0.73, 0.77, 0.84, 0.94, 0.90, 0.66, 0.52, 0.40],
    [0.46, 0.41, 0.36, 0.34, 0.40, 0.46, 0.47, 0.47, 0.73, 0.76, 0.82, 0.90, 0.96, 0.86, 0.62, 0.46],
    [0.45, 0.36, 0.29, 0.26, 0.31, 0.37, 0.47, 0.47, 0.72, 0.75, 0.81, 0.89, 0.95, 0.84, 0.64, 0.47],
    [0.44, 0.31, 0.23, 0.21, 0.25, 0.28, 0.48, 0.47, 0.73, 0.76, 0.83, 0.91, 0.97, 0.88, 0.66, 0.48],
    [0.44, 0.27, 0.20, 0.18, 0.22, 0.25, 0.49, 0.47, 0.72, 0.74, 0.79, 0.86, 0.93, 0.96, 0.74, 0.50],
    [0.47, 0.43, 0.38, 0.36, 0.43, 0.49, 0.47, 0.47, 0.73, 0.75, 0.79, 0.85, 0.91, 0.94, 0.76, 0.52],
    [0.45, 0.35, 0.28, 0.25, 0.30, 0.34, 0.47, 0.47, 0.72, 0.75, 0.82, 0.87, 0.80, 0.66, 0.54, 0.43],
    [0.44, 0.29, 0.21, 0.19, 0.23, 0.26, 0.49, 0.47, 0.73, 0.77, 0.84, 0.76, 0.64, 0.56, 0.49, 0.41],
    [0.46, 0.40, 0.33, 0.30, 0.36, 0.43, 0.47, 0.47, 0.74, 0.78, 0.86, 0.94, 0.90, 0.72, 0.56, 0.47],
]

# ---------------- panel H : Field LPR (blue) ----------------
TIME_H = [0, 200, 600, 1000, 1400, 1650, 1950, 2100, 2700, 2850, 3600, 4400, 5200, 6000, 6800, 7600, 8850]
H_LPR = [
    [0.56, 0.47, 0.47, 0.47, 0.47, 0.52, 0.52, 0.47, 0.47, 0.74, 0.78, 0.85, 0.95, 1.00, 0.88, 0.62, 0.50],
    [0.48, 0.11, 0.12, 0.14, 0.16, 0.17, 0.20, 0.47, 0.47, 0.72, 0.74, 0.80, 0.90, 1.00, 0.75, 0.55, 0.46],
    [0.47, 0.10, 0.11, 0.14, 0.16, 0.18, 0.22, 0.48, 0.47, 0.73, 0.75, 0.82, 0.98, 0.82, 0.62, 0.52, 0.44],
    [0.47, 0.18, 0.17, 0.17, 0.18, 0.20, 0.24, 0.50, 0.47, 0.72, 0.73, 0.68, 0.58, 0.52, 0.48, 0.43, 0.36],
    [0.47, 0.30, 0.22, 0.19, 0.19, 0.21, 0.25, 0.50, 0.47, 0.73, 0.74, 0.62, 0.52, 0.49, 0.45, 0.41, 0.31],
    [0.47, 0.47, 0.35, 0.25, 0.21, 0.22, 0.26, 0.50, 0.47, 0.74, 0.77, 0.80, 0.62, 0.55, 0.50, 0.45, 0.38],
    [0.47, 0.47, 0.42, 0.32, 0.25, 0.26, 0.30, 0.49, 0.47, 0.73, 0.78, 0.85, 0.80, 0.60, 0.52, 0.46, 0.40],
    [0.47, 0.47, 0.47, 0.40, 0.30, 0.30, 0.35, 0.48, 0.47, 0.74, 0.80, 0.88, 0.95, 0.62, 0.55, 0.48, 0.42],
    [0.47, 0.47, 0.47, 0.45, 0.38, 0.40, 0.45, 0.48, 0.47, 0.75, 0.82, 0.90, 0.99, 0.98, 0.70, 0.56, 0.48],
    [0.47, 0.47, 0.47, 0.47, 0.44, 0.48, 0.52, 0.47, 0.47, 0.76, 0.82, 0.88, 0.96, 1.00, 0.95, 0.65, 0.50],
    [0.47, 0.47, 0.47, 0.47, 0.47, 0.52, 0.53, 0.47, 0.47, 0.77, 0.85, 0.92, 1.00, 0.98, 0.85, 0.60, 0.48],
    [0.47, 0.25, 0.20, 0.19, 0.19, 0.22, 0.27, 0.50, 0.47, 0.72, 0.75, 0.70, 0.57, 0.52, 0.49, 0.45, 0.37],
    [0.47, 0.20, 0.18, 0.17, 0.18, 0.20, 0.23, 0.51, 0.47, 0.73, 0.74, 0.82, 0.58, 0.54, 0.50, 0.46, 0.40],
    [0.47, 0.38, 0.28, 0.22, 0.20, 0.21, 0.24, 0.50, 0.47, 0.72, 0.77, 0.88, 0.99, 0.68, 0.56, 0.50, 0.44],
    [0.50, 0.44, 0.32, 0.25, 0.22, 0.23, 0.27, 0.49, 0.47, 0.74, 0.79, 0.86, 0.96, 1.00, 0.80, 0.58, 0.46],
    [0.47, 0.47, 0.40, 0.30, 0.24, 0.24, 0.28, 0.48, 0.47, 0.73, 0.76, 0.72, 0.60, 0.56, 0.52, 0.48, 0.42],
    [0.47, 0.47, 0.47, 0.38, 0.28, 0.27, 0.32, 0.49, 0.47, 0.74, 0.81, 0.90, 0.86, 0.62, 0.56, 0.50, 0.45],
    [0.47, 0.47, 0.47, 0.43, 0.34, 0.34, 0.40, 0.48, 0.47, 0.75, 0.84, 0.93, 1.00, 0.95, 0.72, 0.58, 0.49],
    [0.47, 0.47, 0.44, 0.36, 0.27, 0.28, 0.33, 0.49, 0.47, 0.74, 0.58, 0.70, 0.62, 0.56, 0.52, 0.48, 0.43],
    [0.47, 0.47, 0.47, 0.47, 0.42, 0.45, 0.50, 0.48, 0.47, 0.75, 0.83, 0.91, 1.00, 1.00, 0.92, 0.62, 0.51],
    [0.47, 0.47, 0.47, 0.47, 0.47, 0.52, 0.52, 0.47, 0.47, 0.75, 0.80, 0.87, 0.94, 0.99, 1.00, 0.70, 0.50],
    [0.47, 0.47, 0.47, 0.46, 0.40, 0.42, 0.47, 0.48, 0.47, 0.74, 0.79, 0.86, 0.93, 0.98, 0.97, 0.68, 0.47],
    [0.47, 0.47, 0.47, 0.42, 0.32, 0.32, 0.38, 0.48, 0.47, 0.74, 0.80, 0.88, 0.96, 1.00, 0.90, 0.64, 0.49],
    [0.47, 0.47, 0.38, 0.27, 0.22, 0.23, 0.27, 0.49, 0.47, 0.73, 0.78, 0.84, 0.92, 0.99, 0.78, 0.58, 0.45],
    [0.47, 0.34, 0.25, 0.20, 0.19, 0.21, 0.25, 0.50, 0.47, 0.73, 0.77, 0.83, 0.65, 0.56, 0.51, 0.47, 0.40],
    [0.47, 0.22, 0.19, 0.18, 0.18, 0.20, 0.23, 0.50, 0.47, 0.72, 0.75, 0.79, 0.62, 0.55, 0.50, 0.46, 0.41],
    [0.47, 0.47, 0.47, 0.47, 0.46, 0.50, 0.52, 0.47, 0.47, 0.76, 0.83, 0.90, 0.97, 1.00, 0.98, 0.72, 0.52],
    [0.47, 0.47, 0.45, 0.34, 0.26, 0.26, 0.30, 0.49, 0.47, 0.74, 0.79, 0.78, 0.60, 0.54, 0.50, 0.46, 0.42],
    [0.47, 0.47, 0.47, 0.47, 0.45, 0.49, 0.52, 0.47, 0.47, 0.75, 0.81, 0.88, 0.95, 0.99, 0.86, 0.62, 0.47],
    [0.47, 0.29, 0.21, 0.18, 0.18, 0.20, 0.24, 0.50, 0.47, 0.73, 0.76, 0.86, 0.96, 0.80, 0.60, 0.52, 0.45],
]

# ---------------- panel I : Field LPR (black) ----------------
TIME_I = [0, 300, 900, 1400, 1750, 1950, 2150, 2550, 2750, 3000, 3700, 4400, 5200, 6000, 6800, 7600, 8850]
I_LPR = [
    [0.52, 0.47, 0.47, 0.47, 0.54, 0.54, 0.50, 0.46, 0.47, 0.74, 0.77, 0.82, 0.90, 0.96, 0.96, 0.85, 0.65],
    [0.50, 0.46, 0.46, 0.47, 0.53, 0.53, 0.49, 0.46, 0.48, 0.75, 0.78, 0.85, 0.95, 0.96, 0.94, 0.80, 0.62],
    [0.51, 0.45, 0.44, 0.45, 0.52, 0.54, 0.49, 0.45, 0.47, 0.74, 0.77, 0.83, 0.93, 0.96, 0.90, 0.72, 0.58],
    [0.50, 0.42, 0.38, 0.42, 0.48, 0.52, 0.48, 0.45, 0.47, 0.73, 0.76, 0.82, 0.92, 0.95, 0.85, 0.66, 0.54],
    [0.49, 0.40, 0.35, 0.38, 0.45, 0.50, 0.48, 0.46, 0.47, 0.74, 0.76, 0.80, 0.88, 0.93, 0.80, 0.62, 0.50],
    [0.49, 0.38, 0.32, 0.36, 0.42, 0.48, 0.47, 0.45, 0.47, 0.73, 0.75, 0.80, 0.90, 0.88, 0.72, 0.58, 0.48],
    [0.48, 0.36, 0.30, 0.33, 0.40, 0.46, 0.48, 0.46, 0.47, 0.74, 0.77, 0.84, 0.93, 0.82, 0.66, 0.54, 0.45],
    [0.48, 0.34, 0.28, 0.30, 0.37, 0.44, 0.47, 0.45, 0.47, 0.73, 0.76, 0.83, 0.85, 0.75, 0.62, 0.52, 0.43],
    [0.47, 0.32, 0.26, 0.27, 0.33, 0.42, 0.48, 0.46, 0.47, 0.74, 0.75, 0.80, 0.78, 0.68, 0.57, 0.49, 0.41],
    [0.47, 0.30, 0.24, 0.24, 0.30, 0.40, 0.47, 0.46, 0.47, 0.73, 0.74, 0.78, 0.72, 0.62, 0.53, 0.46, 0.39],
    [0.47, 0.28, 0.22, 0.21, 0.26, 0.36, 0.48, 0.45, 0.47, 0.74, 0.76, 0.82, 0.88, 0.94, 0.88, 0.70, 0.52],
    [0.46, 0.26, 0.21, 0.20, 0.23, 0.32, 0.47, 0.46, 0.47, 0.73, 0.75, 0.80, 0.86, 0.92, 0.94, 0.78, 0.56],
    [0.46, 0.24, 0.20, 0.19, 0.21, 0.28, 0.48, 0.45, 0.47, 0.74, 0.76, 0.82, 0.90, 0.95, 0.95, 0.84, 0.60],
    [0.45, 0.22, 0.19, 0.18, 0.20, 0.25, 0.47, 0.46, 0.47, 0.73, 0.75, 0.81, 0.92, 0.96, 0.93, 0.76, 0.55],
    [0.45, 0.19, 0.17, 0.16, 0.18, 0.22, 0.47, 0.45, 0.47, 0.73, 0.74, 0.79, 0.88, 0.90, 0.78, 0.60, 0.47],
    [0.50, 0.17, 0.17, 0.15, 0.16, 0.21, 0.46, 0.46, 0.47, 0.72, 0.73, 0.74, 0.62, 0.55, 0.50, 0.45, 0.38],
    [0.46, 0.20, 0.18, 0.17, 0.19, 0.23, 0.47, 0.45, 0.47, 0.72, 0.73, 0.76, 0.65, 0.57, 0.51, 0.42, 0.36],
    [0.47, 0.27, 0.23, 0.23, 0.28, 0.35, 0.47, 0.46, 0.47, 0.74, 0.78, 0.86, 0.88, 0.78, 0.64, 0.54, 0.44],
    [0.48, 0.33, 0.27, 0.28, 0.35, 0.43, 0.47, 0.45, 0.47, 0.73, 0.76, 0.84, 0.93, 0.96, 0.92, 0.74, 0.56],
    [0.49, 0.37, 0.31, 0.34, 0.41, 0.47, 0.48, 0.46, 0.47, 0.74, 0.77, 0.86, 0.94, 0.97, 0.96, 0.86, 0.63],
    [0.50, 0.43, 0.40, 0.41, 0.47, 0.51, 0.48, 0.45, 0.47, 0.75, 0.78, 0.86, 0.95, 0.96, 0.95, 0.82, 0.60],
    [0.51, 0.46, 0.45, 0.46, 0.52, 0.53, 0.49, 0.46, 0.47, 0.75, 0.79, 0.87, 0.92, 0.84, 0.70, 0.58, 0.48],
    [0.52, 0.47, 0.46, 0.47, 0.53, 0.54, 0.50, 0.46, 0.47, 0.76, 0.80, 0.88, 0.96, 0.96, 0.82, 0.66, 0.52],
    [0.48, 0.35, 0.29, 0.31, 0.38, 0.45, 0.47, 0.45, 0.47, 0.73, 0.75, 0.81, 0.84, 0.80, 0.70, 0.57, 0.46],
    [0.47, 0.31, 0.25, 0.26, 0.32, 0.41, 0.47, 0.46, 0.47, 0.73, 0.76, 0.83, 0.91, 0.86, 0.72, 0.60, 0.50],
    [0.46, 0.25, 0.20, 0.20, 0.24, 0.30, 0.47, 0.46, 0.47, 0.74, 0.77, 0.84, 0.93, 0.96, 0.86, 0.68, 0.53],
    [0.47, 0.29, 0.23, 0.22, 0.27, 0.37, 0.48, 0.45, 0.47, 0.73, 0.76, 0.83, 0.87, 0.92, 0.96, 0.88, 0.64],
    [0.49, 0.39, 0.34, 0.37, 0.44, 0.49, 0.48, 0.46, 0.47, 0.74, 0.76, 0.82, 0.86, 0.88, 0.74, 0.60, 0.49],
    [0.48, 0.35, 0.30, 0.32, 0.39, 0.45, 0.47, 0.45, 0.47, 0.74, 0.77, 0.84, 0.92, 0.96, 0.90, 0.72, 0.54],
    [0.47, 0.30, 0.25, 0.25, 0.31, 0.39, 0.48, 0.46, 0.47, 0.73, 0.76, 0.83, 0.90, 0.93, 0.82, 0.64, 0.50],
    [0.46, 0.23, 0.19, 0.19, 0.22, 0.27, 0.47, 0.45, 0.47, 0.73, 0.75, 0.81, 0.89, 0.95, 0.91, 0.74, 0.54],
    [0.49, 0.41, 0.37, 0.39, 0.46, 0.50, 0.48, 0.46, 0.47, 0.75, 0.78, 0.85, 0.93, 0.96, 0.93, 0.78, 0.58],
    [0.47, 0.26, 0.22, 0.22, 0.26, 0.33, 0.47, 0.46, 0.47, 0.74, 0.77, 0.83, 0.89, 0.82, 0.68, 0.56, 0.45],
    [0.48, 0.32, 0.26, 0.28, 0.34, 0.42, 0.48, 0.45, 0.47, 0.73, 0.75, 0.80, 0.86, 0.90, 0.84, 0.68, 0.51],
    [0.50, 0.44, 0.42, 0.44, 0.50, 0.52, 0.48, 0.46, 0.47, 0.75, 0.79, 0.86, 0.94, 0.96, 0.96, 0.88, 0.66],
    [0.46, 0.21, 0.18, 0.17, 0.19, 0.24, 0.47, 0.45, 0.47, 0.72, 0.74, 0.78, 0.84, 0.76, 0.62, 0.52, 0.42],
    [0.47, 0.28, 0.24, 0.24, 0.29, 0.36, 0.48, 0.46, 0.47, 0.74, 0.76, 0.82, 0.90, 0.94, 0.90, 0.76, 0.57],
    [0.49, 0.36, 0.33, 0.35, 0.41, 0.47, 0.48, 0.45, 0.47, 0.73, 0.76, 0.81, 0.88, 0.84, 0.70, 0.57, 0.46],
]

# ---------------- layout description (pixel boxes: left, right, top, bottom) ----------------
X_RANGE = [-442.5, 9292.5]
PANELS = [
    dict(letter='A', box=(182.7, 474.0, 24.3, 213.7), lab=(126, 32), color=GRAY, spline=False,
         series=[(TIME_A, A_WC)], ytitle='P4: Water cut', yr=[0, 1], yt=(Y_TICKS_UNIT, Y_TICK_TEXT_UNIT), yoff=39),
    dict(letter='B', box=(564.3, 856.0, 24.3, 213.7), lab=(506, 32), color=BLUE, spline=False,
         series=[(TIME_B, B_WC), (TIME_B_SPIKE1, [B_SPIKE1]), (TIME_B_SPIKE2, [B_SPIKE2])],
         ytitle='P4: Water cut', yr=[0, 1], yt=(Y_TICKS_UNIT, Y_TICK_TEXT_UNIT), yoff=39),
    dict(letter='C', box=(945.7, 1237.3, 24.3, 213.7), lab=(881, 32), color=BLACK, spline=True,
         series=[(TIME_C, C_WC)], ytitle='P4: Water cut', yr=[0, 1], yt=(Y_TICKS_UNIT, Y_TICK_TEXT_UNIT), yoff=38),
    dict(letter='D', box=(192.7, 477.7, 265.0, 450.0), lab=(126, 248), color=GRAY, spline=False,
         series=[(TIME_D, D_LPR), (TIME_D_SPIKE1, [D_SPIKE1]), (TIME_D_SPIKE2, [D_SPIKE2]), (TIME_D_SPIKE3, [D_SPIKE3])],
         ytitle='P4: LPR', yr=[0, 0.23], yt=(Y_TICKS_LPR, Y_TICK_TEXT_LPR), yoff=46),
    dict(letter='E', box=(572.7, 857.7, 265.0, 450.0), lab=(506, 248), color=BLUE, spline=False,
         series=[(TIME_E, E_LPR), (TIME_E_SPIKE1, [E_SPIKE1]), (TIME_E_SPIKE2, [E_SPIKE2])],
         ytitle='P4: LPR', yr=[0, 0.23], yt=(Y_TICKS_LPR, Y_TICK_TEXT_LPR), yoff=46),
    dict(letter='F', box=(950.7, 1235.3, 265.0, 450.0), lab=(881, 248), color=BLACK, spline=True,
         series=[(TIME_F, F_LPR)], ytitle='P4: LPR', yr=[0, 0.23], yt=(Y_TICKS_LPR, Y_TICK_TEXT_LPR), yoff=46),
    dict(letter='G', box=(187.3, 479.0, 505.0, 694.0), lab=(126, 486), color=GRAY, spline=False,
         series=[(TIME_G, G_LPR)], ytitle='Field: LPR', yr=[0, 1], yt=(Y_TICKS_UNIT, Y_TICK_TEXT_UNIT), yoff=39),
    dict(letter='H', box=(570.0, 861.7, 505.0, 694.0), lab=(507, 486), color=BLUE, spline=False,
         series=[(TIME_H, H_LPR)], ytitle='Field: LPR', yr=[0, 1], yt=(Y_TICKS_UNIT, Y_TICK_TEXT_UNIT), yoff=39),
    dict(letter='I', box=(941.7, 1234.0, 505.0, 694.0), lab=(881, 486), color=BLACK, spline=True,
         series=[(TIME_I, I_LPR)], ytitle='Field: LPR', yr=[0, 1], yt=(Y_TICKS_UNIT, Y_TICK_TEXT_UNIT), yoff=38),
]

TICK_FONT = dict(family='DejaVu Sans', size=12.5, color='black')
LABEL_FONT = dict(family='DejaVu Sans', size=13, color='black')
axis_style = dict(showline=True, linecolor='black', linewidth=1, mirror=True,
                  ticks='outside', ticklen=3.5, tickwidth=1, tickcolor='black',
                  showgrid=False, zeroline=False, tickfont=TICK_FONT, fixedrange=True,
                  automargin=False)

fig = go.Figure()
layout_axes = {}
annotations = []

for i, p in enumerate(PANELS, start=1):
    suf = '' if i == 1 else str(i)
    xref, yref = 'x' + suf, 'y' + suf
    l, r, t, b = p['box']
    for times, lines in p['series']:
        for ys in lines:
            fig.add_trace(go.Scatter(
                x=times, y=ys, mode='lines', xaxis=xref, yaxis=yref,
                line=dict(color=p['color'], width=1.1,
                          shape='spline' if p['spline'] else 'linear', smoothing=0.7),
                hoverinfo='skip', showlegend=False))
    layout_axes['xaxis' + suf] = dict(axis_style, domain=[l / FIG_W, r / FIG_W], anchor=yref,
                                      range=X_RANGE, tickvals=X_TICKS, ticktext=X_TICK_TEXT)
    layout_axes['yaxis' + suf] = dict(axis_style, domain=[1 - b / FIG_H, 1 - t / FIG_H], anchor=xref,
                                      range=p['yr'], tickvals=p['yt'][0], ticktext=p['yt'][1])
    annotations.append(dict(text='<b>%s</b>' % p['letter'], x=p['lab'][0] / FIG_W, y=1 - p['lab'][1] / FIG_H,
                            xref='paper', yref='paper', showarrow=False, xanchor='center', yanchor='middle',
                            font=dict(family='Liberation Sans, Arial, sans-serif', size=23, color='black')))
    annotations.append(dict(text='Time', x=(l + r) / 2 / FIG_W, y=1 - (b + 30) / FIG_H,
                            xref='paper', yref='paper', showarrow=False, xanchor='center', yanchor='middle',
                            font=LABEL_FONT))
    annotations.append(dict(text=p['ytitle'], x=(l - p['yoff']) / FIG_W, y=1 - (t + b) / 2 / FIG_H,
                            xref='paper', yref='paper', showarrow=False, xanchor='center', yanchor='middle',
                            textangle=-90, font=LABEL_FONT))

border = dict(type='line', xref='paper', yref='paper', line=dict(color='#777777', width=1.5))
shapes = [
    dict(border, x0=4 / FIG_W, x1=1347.5 / FIG_W, y0=1 - 4 / FIG_H, y1=1 - 4 / FIG_H),
    dict(border, x0=4 / FIG_W, x1=4 / FIG_W, y0=0, y1=1 - 4 / FIG_H),
    dict(border, x0=1347.5 / FIG_W, x1=1347.5 / FIG_W, y0=0, y1=1 - 4 / FIG_H),
]

fig.update_layout(width=FIG_W, height=FIG_H, margin=dict(l=0, r=0, t=0, b=0, autoexpand=False),
                  paper_bgcolor='white', plot_bgcolor='white', showlegend=False,
                  annotations=annotations, shapes=shapes, hovermode=False, **layout_axes)

PIN_PAGE = ("document.body.style.margin='0';document.body.style.padding='0';"
            "document.body.style.overflow='hidden';"
            "var gd=document.getElementById('{plot_id}');"
            "gd.style.position='fixed';gd.style.left='0px';gd.style.top='0px';")

fig.write_html("out.html", config={'displayModeBar': False}, post_script=PIN_PAGE)
